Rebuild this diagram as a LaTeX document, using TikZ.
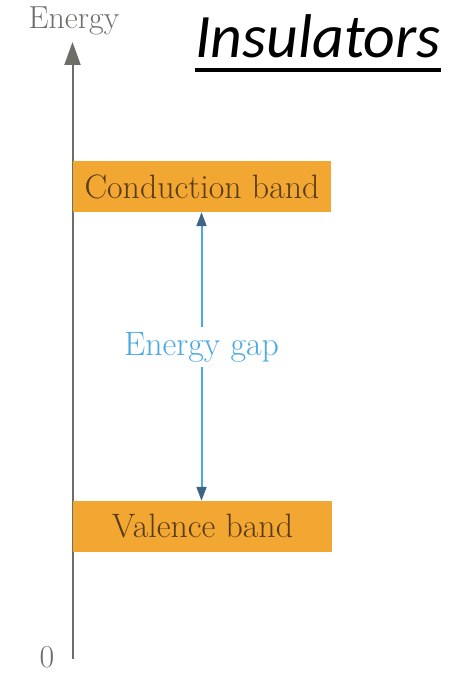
\documentclass[tikz,border=0pt]{standalone}
\usepackage{fontspec}
\newfontfamily\titlefont{Carlito}
\usetikzlibrary{arrows.meta}
\definecolor{ebink}{HTML}{6E6E68}
\definecolor{ebband}{HTML}{F2A733}
\definecolor{ebbrown}{HTML}{5A3C14}
\definecolor{ebblue}{HTML}{4AA8E2}
\definecolor{ebhead}{HTML}{3E6684}
\tikzset{
  eb axis/.style={-{Triangle[length=23bp,width=16bp]}, line width=2bp, draw=ebink},
  eb axis label/.style={font=\fontsize{32}{36}\selectfont, text=ebink},
  eb band/.style={fill=ebband, draw=none, minimum width=258bp, minimum height=51bp,
    font=\fontsize{34}{40}\selectfont, text=ebbrown},
  eb gap label/.style={font=\fontsize{34}{40}\selectfont, text=ebblue, inner sep=5bp},
  eb gap arrow/.style={-{Triangle[length=14bp,width=10bp,color=ebhead]}, line width=2bp,
    draw=ebblue},
  eb title/.style={font=\titlefont\itshape\fontsize{62}{72}\selectfont, text=black, inner sep=0pt},
  eb underline/.style={line width=3.5bp, draw=black}
}
\begin{document}
\begin{tikzpicture}[x=1bp, y=1bp]
  \useasboundingbox (0,0) rectangle (454,675);

  % energy axis
  \coordinate (axbot) at (72.5,16);
  \coordinate (axtop) at (72.5,633);
  \draw[eb axis] (axbot) -- (axtop);
  \node[eb axis label] (energy) at (74,654) {Energy};
  \node[eb axis label] (zero) at (47,18) {0};

  % bands
  \node[eb band] (cond) at (202,488.5) {Conduction band};
  \node[eb band] (val) at (202.5,148.5) {Valence band};

  % gap
  \node[eb gap label] (gap) at (201.5,328) {Energy gap};
  \draw[eb gap arrow] (gap.north) -- (gap.north |- cond.south);
  \draw[eb gap arrow] (gap.south) -- (gap.south |- val.north);

  % title
  \node[eb title, anchor=base] (title) at (318,617) {Insulators};
  \draw[eb underline] ([yshift=-12bp]title.base west) -- ([yshift=-12bp]title.base east);
\end{tikzpicture}
\end{document}
